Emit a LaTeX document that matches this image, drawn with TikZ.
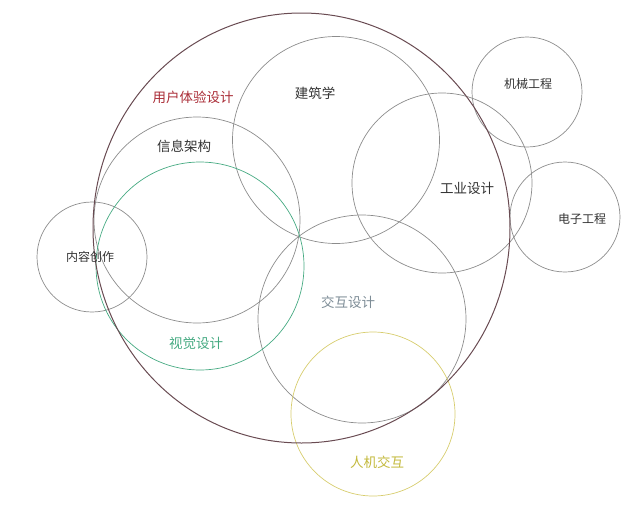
\documentclass[tikz,border=0pt]{standalone}
\usepackage{fontspec}
\newfontfamily\cjk{Noto Sans CJK SC}
\definecolor{uxline}{RGB}{105,75,82}
\definecolor{uxtext}{RGB}{170,45,55}
\definecolor{visgreen}{RGB}{70,170,130}
\definecolor{hcigold}{RGB}{215,205,110}
\definecolor{hcitext}{RGB}{195,185,60}
\definecolor{ixtext}{RGB}{125,140,150}

\begin{document}
\begin{tikzpicture}[
              x=1pt,y=-1pt,
              ring/.style={
                  draw=black!45,
                  line width=0.7pt,
                },
              tag/.style={
                  font=\cjk\fontsize{13.5}{14}\selectfont,
                  text=black!80,
                  inner sep=0pt,
                },
              small tag/.style={
                  tag,
                  font=\cjk\fontsize{12}{13}\selectfont,
                }
            ]
            \useasboundingbox (0,0) rectangle (640,509);
            % gray circles
            \foreach \X/\Y/\R in {336/140/103.5, 197/220/103, 92/257/55,
                                  442/183/90, 527/92/55, 565/217/55, 362/319/104}
            \draw[ring] (\X,\Y) circle (\R pt);
            \draw[ring,draw=visgreen] (200,266) circle (104pt);
            \draw[ring,draw=hcigold] (373,414) circle (82pt);
            \draw[ring,draw=uxline,line width=1pt] (301.5,228) ellipse [x radius=208.5pt, y radius=215pt];
            % labels
            \node[tag,text=uxtext] (ux) at (193,97) {用户体验设计};
            \node[tag] (arch) at (315,93) {建筑学};
            \node[tag] (ia) at (184,146) {信息架构};
            \node[tag,text=visgreen] (vis) at (196,343) {视觉设计};
            \node[small tag] (content) at (90,257) {内容创作};
            \node[tag] (ind) at (467,188) {工业设计};
            \node[small tag] (mech) at (528,84) {机械工程};
            \node[small tag] (elec) at (582,219) {电子工程};
            \node[tag,text=ixtext] (ix) at (348,302) {交互设计};
            \node[tag,text=hcitext] (hci) at (377,462) {人机交互};
          \end{tikzpicture}
\end{document}
